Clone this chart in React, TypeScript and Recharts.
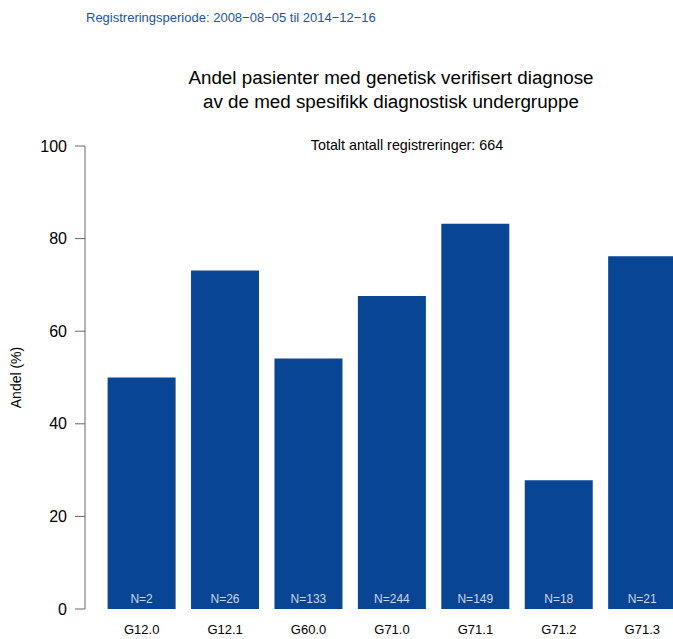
import { BarChart, Bar, XAxis, YAxis, LabelList } from "recharts"

const categories = ["G12.0", "G12.1", "G60.0", "G71.0", "G71.1", "G71.2", "G71.3"]
const shares = [50.0, 73.1, 54.1, 67.6, 83.2, 27.8, 76.2]
const counts = [2, 26, 133, 244, 149, 18, 21]
const yTicks = [0, 20, 40, 60, 80, 100]

const data = categories.map((c, i) => ({
  name: c,
  share: shares[i],
  label: `N=${counts[i]}`,
}))

const FONT = '"Liberation Sans", Arial, sans-serif'
const BAR_COLOR = "#084594"

export default function App() {
  return (
    <div
      style={{
        position: "fixed",
        left: 0,
        top: 0,
        width: 673,
        height: 639,
        overflow: "hidden",
        background: "#fff",
        fontFamily: FONT,
      }}
    >
      <div
        style={{
          position: "absolute",
          left: 86,
          top: 10,
          fontSize: 13,
          lineHeight: "16px",
          color: "#2155a8",
          whiteSpace: "nowrap",
        }}
      >
        Registreringsperiode: 2008−08−05 til 2014−12−16
      </div>
      <div
        style={{
          position: "absolute",
          left: 91,
          width: 600,
          top: 66,
          fontSize: 18.8,
          lineHeight: "24px",
          textAlign: "center",
          color: "#000",
        }}
      >
        Andel pasienter med genetisk verifisert diagnose
        <br />
        av de med spesifikk diagnostisk undergruppe
      </div>
      <div
        style={{
          position: "absolute",
          left: 207,
          width: 400,
          top: 136,
          fontSize: 14.3,
          lineHeight: "18px",
          textAlign: "center",
          color: "#000",
        }}
      >
        Totalt antall registreringer: 664
      </div>
      <div style={{ position: "absolute", left: 0, top: 0 }}>
        <BarChart
          width={684}
          height={639}
          data={data}
          margin={{ top: 146, right: 0, bottom: 0, left: 0 }}
          barCategoryGap={7.6}
        >
          <XAxis
            dataKey="name"
            height={30}
            axisLine={false}
            tickLine={false}
            padding={{ left: 15, right: 0 }}
            tick={{ fontSize: 13, fill: "#000", fontFamily: FONT }}
            tickMargin={10}
            interval={0}
          />
          <YAxis
            domain={[0, 100]}
            ticks={yTicks}
            width={85}
            tickSize={10}
            tickMargin={8}
            axisLine={{ stroke: "#666" }}
            tickLine={{ stroke: "#666" }}
            tick={{ fontSize: 16, fill: "#000", fontFamily: FONT }}
            label={{
              value: "Andel (%)",
              angle: -90,
              position: "insideLeft",
              offset: 16,
              style: { fontSize: 14, fill: "#000", fontFamily: FONT, textAnchor: "middle" },
            }}
          />
          <Bar dataKey="share" fill={BAR_COLOR} isAnimationActive={false}>
            <LabelList
              dataKey="label"
              position="insideBottom"
              offset={6}
              style={{ fontSize: 12, fill: "#c9d6ee", fontFamily: FONT }}
            />
          </Bar>
        </BarChart>
      </div>
    </div>
  )
}
